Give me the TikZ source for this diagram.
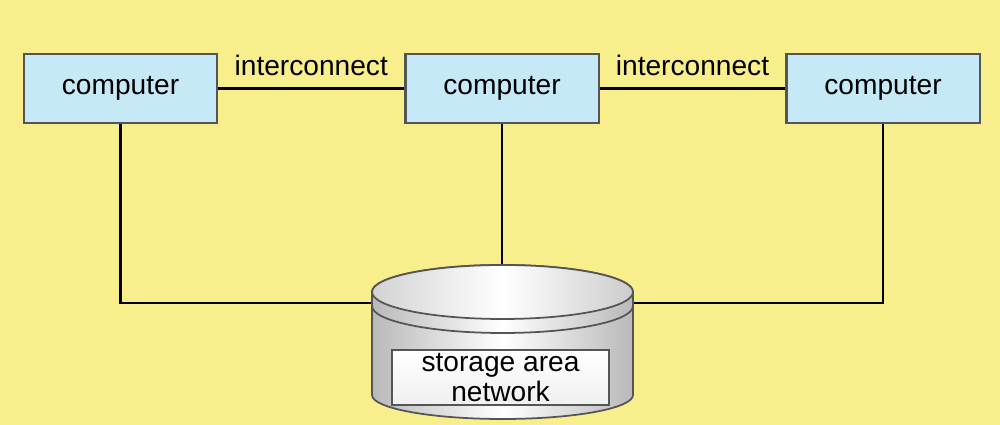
\documentclass[tikz,border=0pt]{standalone}
\usepackage{fontspec}
\setmainfont{Liberation Sans}
\definecolor{slideyellow}{RGB}{248,238,140}
\definecolor{compblue}{RGB}{198,233,248}
\definecolor{edgegray}{RGB}{85,85,85}

\begin{document}
\begin{tikzpicture}[
    x=0.01cm, y=0.01cm,
    font=\fontsize{8}{9.6}\selectfont,
    computer/.style={rectangle, draw=edgegray, line width=0.6pt, fill=compblue, minimum width=1.93cm, minimum height=0.69cm},
    sanbox/.style={rectangle, draw=edgegray, line width=0.5pt, top color=white, bottom color=gray!12, minimum width=2.17cm, minimum height=0.55cm, inner sep=0.8pt, align=center, font=\fontsize{8}{7.2}\selectfont},
    link/.style={line width=0.6pt, black},
    disk/.style={draw=edgegray, line width=0.5pt}
]

% Background
\fill[slideyellow] (0,0) rectangle (1000,425);
\useasboundingbox (0,0) rectangle (1000,425);

% Computers
\node[computer] (comp1) at (120.5,336.5) {computer};
\node[computer] (comp2) at (502,336.5) {computer};
\node[computer] (comp3) at (883,336.5) {computer};

% Attachment points on the storage cylinder
\coordinate (diskL) at (372,122);
\coordinate (diskR) at (633,122);
\coordinate (diskT) at (502,160);

% Interconnects
\draw[link] (comp1) -- node[above] {interconnect} (comp2);
\draw[link] (comp2) -- node[above] {interconnect} (comp3);

% Lines down to storage
\draw[link] (comp1.south) |- (diskL);
\draw[link] (comp2.south) -- (diskT);
\draw[link] (comp3.south) |- (diskR);

% Storage cylinder
\draw[disk, shading=axis, left color=gray!55, right color=gray!55, middle color=white]
    (372,133) -- (372,30) arc[start angle=180, end angle=360, x radius=130.5, y radius=24]
    -- (633,133) arc[start angle=0, end angle=180, x radius=130.5, y radius=27] -- cycle;
\draw[disk, shading=axis, left color=gray!35, right color=gray!40, middle color=white]
    (502.5,133) ellipse[x radius=130.5, y radius=27];
\draw[disk] (372,119) arc[start angle=180, end angle=360, x radius=130.5, y radius=27];

\node[sanbox] (san) at (500.5,47.5) {storage area\\network};

\end{tikzpicture}
\end{document}
